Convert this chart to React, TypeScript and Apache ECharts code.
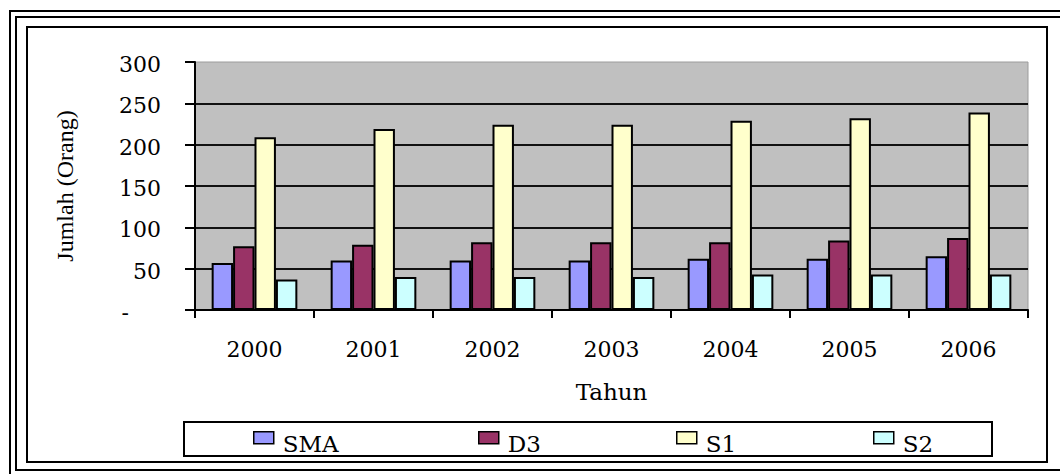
import React, { useEffect, useRef } from 'react';
import * as echarts from 'echarts';

const years = ['2000', '2001', '2002', '2003', '2004', '2005', '2006'];
const sma = [57, 60, 60, 60, 62, 62, 65];
const d3 = [77, 79, 82, 82, 82, 84, 87];
const s1 = [209, 219, 224, 224, 229, 232, 239];
const s2 = [37, 40, 40, 40, 43, 43, 43];
const seriesNames = ['SMA', 'D3', 'S1', 'S2'];
const seriesColors = ['#9999FF', '#993366', '#FFFFCC', '#CCFFFF'];
const legendLefts = [253, 478, 676, 873];

export default function App() {
  const ref = useRef<HTMLDivElement>(null);
  useEffect(() => {
    document.body.style.margin = '0';
    const chart = echarts.init(ref.current!, null, { renderer: 'svg' });
    const serif = 'DejaVu Serif';
    const values = [sma, d3, s1, s2];
    chart.setOption({
      animation: false,
      backgroundColor: '#FFFFFF',
      grid: {
        left: 195,
        right: 32,
        top: 62,
        bottom: 164,
        show: true,
        backgroundColor: '#C0C0C0',
        borderColor: '#9c9c9c',
        borderWidth: 1,
      },
      xAxis: {
        type: 'category',
        data: years,
        boundaryGap: true,
        axisLine: { show: true, lineStyle: { color: '#000', width: 2 } },
        axisTick: { show: true, length: 8, lineStyle: { color: '#000', width: 2 } },
        axisLabel: { margin: 28, fontFamily: serif, fontSize: 22, color: '#000' },
        name: 'Tahun',
        nameLocation: 'middle',
        nameGap: 70,
        nameTextStyle: { fontFamily: serif, fontSize: 23, color: '#000' },
        z: 5,
      },
      yAxis: {
        type: 'value',
        min: 0,
        max: 300,
        interval: 50,
        axisLine: { show: true, lineStyle: { color: '#000', width: 2 } },
        axisTick: { show: true, length: 10, lineStyle: { color: '#000', width: 2 } },
        splitLine: {
          show: true,
          showMaxLine: false,
          showMinLine: false,
          lineStyle: { color: '#111', width: 2 },
        },
        axisLabel: {
          margin: 34,
          fontFamily: serif,
          fontSize: 22,
          color: '#000',
          padding: [5, 0, 0, 0],
          formatter: (v: number) => (v === 0 ? '{d|-}' : String(v)),
          rich: { d: { fontFamily: serif, fontSize: 22, color: '#000', padding: [0, 32, 0, 0] } },
        },
        name: 'Jumlah (Orang)',
        nameLocation: 'middle',
        nameGap: 118,
        nameRotate: 90,
        nameTextStyle: { fontFamily: 'Liberation Serif', fontSize: 24, color: '#000' },
      },
      legend: seriesNames.map((n, i) => ({
        data: [n],
        left: legendLefts[i],
        top: 431,
        padding: 0,
        itemWidth: 20,
        itemHeight: 12,
        itemGap: 0,
        icon: 'rect',
        selectedMode: false,
        itemStyle: { borderColor: '#000', borderWidth: 1.5 },
        formatter: (name: string) => `{t|${name}}`,
        textStyle: {
          fontFamily: serif,
          fontSize: 23,
          color: '#000',
          rich: { t: { fontFamily: serif, fontSize: 23, color: '#000', padding: [12, 0, 0, 4] } },
        },
      })),
      series: seriesNames.map((n, i) => ({
        type: 'bar',
        name: n,
        data: values[i],
        barGap: '0%',
        barCategoryGap: '28%',
        itemStyle: { color: seriesColors[i], borderColor: '#000', borderWidth: 2 },
      })),
      graphic: [
        { type: 'rect', shape: { x: 10, y: 11, width: 1100, height: 480 }, style: { fill: 'none', stroke: '#000', lineWidth: 2 }, silent: true },
        { type: 'rect', shape: { x: 16, y: 17, width: 1100, height: 453 }, style: { fill: 'none', stroke: '#000', lineWidth: 2 }, silent: true },
        { type: 'rect', shape: { x: 27, y: 27, width: 1020, height: 435 }, style: { fill: 'none', stroke: '#000', lineWidth: 2 }, silent: true },
        { type: 'rect', shape: { x: 184, y: 422, width: 808, height: 34 }, style: { fill: 'none', stroke: '#000', lineWidth: 2 }, silent: true },
      ],
    });
    return () => chart.dispose();
  }, []);
  return <div ref={ref} style={{ width: 1060, height: 474 }} />;
}
